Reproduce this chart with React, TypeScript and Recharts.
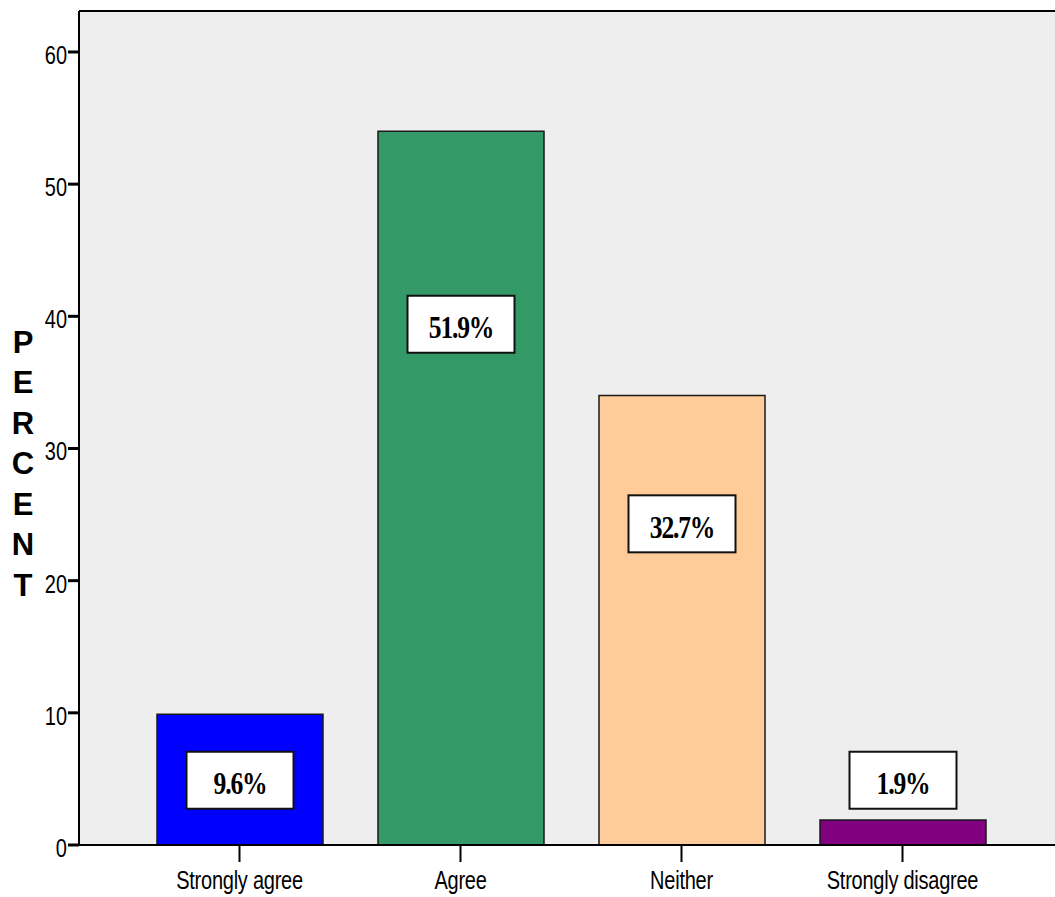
import { ComposedChart, Bar, Cell, XAxis, YAxis, CartesianGrid, LabelList, ReferenceLine } from 'recharts';

const categories = ['Strongly agree', 'Agree', 'Neither', 'Strongly disagree'];
const percents = [9.9, 54.0, 34.0, 1.9];
const percentLabels = ['9.6%', '51.9%', '32.7%', '1.9%'];
// where each label box sits, in percent units
const labelAt = [4.9, 39.4, 24.3, 4.9];
const barColors = ['#0000ff', '#339966', '#ffcc99', '#800080'];
const yTicks = [0, 10, 20, 30, 40, 50, 60];
const yMax = 63.1;
const axisTitle = 'PERCENT';

const data = categories.map((name, i) => ({ name, percent: percents[i] }));

const SQUEEZE = 0.8;

function YTick({ x, y, payload }: any) {
  return (
    <g transform={`translate(${x},${y + 12}) scale(${SQUEEZE},1)`}>
      <text textAnchor="end" fontFamily="Liberation Sans, Arial, sans-serif" fontSize={25} fill="#000">
        {payload.value}
      </text>
    </g>
  );
}

function XTick({ x, y, payload }: any) {
  return (
    <g transform={`translate(${x},${y + 25}) scale(${SQUEEZE},1)`}>
      <text textAnchor="middle" fontFamily="Liberation Sans, Arial, sans-serif" fontSize={25} fill="#000" letterSpacing={-0.3}>
        {payload.value}
      </text>
    </g>
  );
}

function PercentTitle({ viewBox }: any) {
  const cy = viewBox.y + viewBox.height / 2 + 35;
  const pitch = 40.5;
  const first = cy - ((axisTitle.length - 1) / 2) * pitch + 11;
  return (
    <text fontFamily="Liberation Sans, Arial, sans-serif" fontWeight="bold" fontSize={31} fill="#000" textAnchor="middle">
      {axisTitle.split('').map((ch, i) => (
        <tspan key={i} x={23} y={first + i * pitch}>{ch}</tspan>
      ))}
    </text>
  );
}

function BoxLabel({ x, y, width, height, index }: any) {
  const value = percents[index];
  const perUnit = height / value;
  const cx = x + width / 2;
  const cy = y + height - labelAt[index] * perUnit;
  const w = 107;
  const h = 57;
  return (
    <g>
      <rect x={cx - w / 2} y={cy - h / 2} width={w} height={h} fill="#fff" stroke="#111" strokeWidth={2} />
      <g transform={`translate(${cx},${cy + 14}) scale(${SQUEEZE},1)`}>
        <text textAnchor="middle" fontFamily="Liberation Serif, Times New Roman, serif" fontWeight="bold" fontSize={32} fill="#000" letterSpacing={-1.5}>
          {percentLabels[index]}
        </text>
      </g>
    </g>
  );
}

export default function App() {
  return (
    <div style={{ position: 'absolute', left: 0, top: 0, width: 1055, height: 897, overflow: 'hidden', background: '#fff' }}>
      <ComposedChart width={1075} height={897} data={data} margin={{ top: 11, right: 0, left: 0, bottom: 0 }}>
        <CartesianGrid fill="#eeeeee" horizontal={false} vertical={false} />
        <XAxis
          dataKey="name"
          height={52}
          padding={{ left: 50, right: 62 }}
          axisLine={{ stroke: '#000', strokeWidth: 2 }}
          tickLine={{ stroke: '#000', strokeWidth: 2 }}
          tickSize={17}
          tickMargin={2}
          tick={<XTick />}
          interval={0}
        />
        <YAxis
          width={79}
          domain={[0, yMax]}
          ticks={yTicks}
          allowDataOverflow
          axisLine={{ stroke: '#000', strokeWidth: 2 }}
          tickLine={{ stroke: '#000', strokeWidth: 3 }}
          tickSize={11}
          tickMargin={1}
          tick={<YTick />}
          label={<PercentTitle />}
        />
        <ReferenceLine y={yMax} stroke="#000" strokeWidth={2} />
        <Bar dataKey="percent" barSize={166} stroke="#1a1a1a" strokeWidth={1.5} isAnimationActive={false}>
          {data.map((d, i) => (
            <Cell key={d.name} fill={barColors[i]} />
          ))}
          <LabelList dataKey="percent" content={<BoxLabel />} />
        </Bar>
      </ComposedChart>
    </div>
  );
}
